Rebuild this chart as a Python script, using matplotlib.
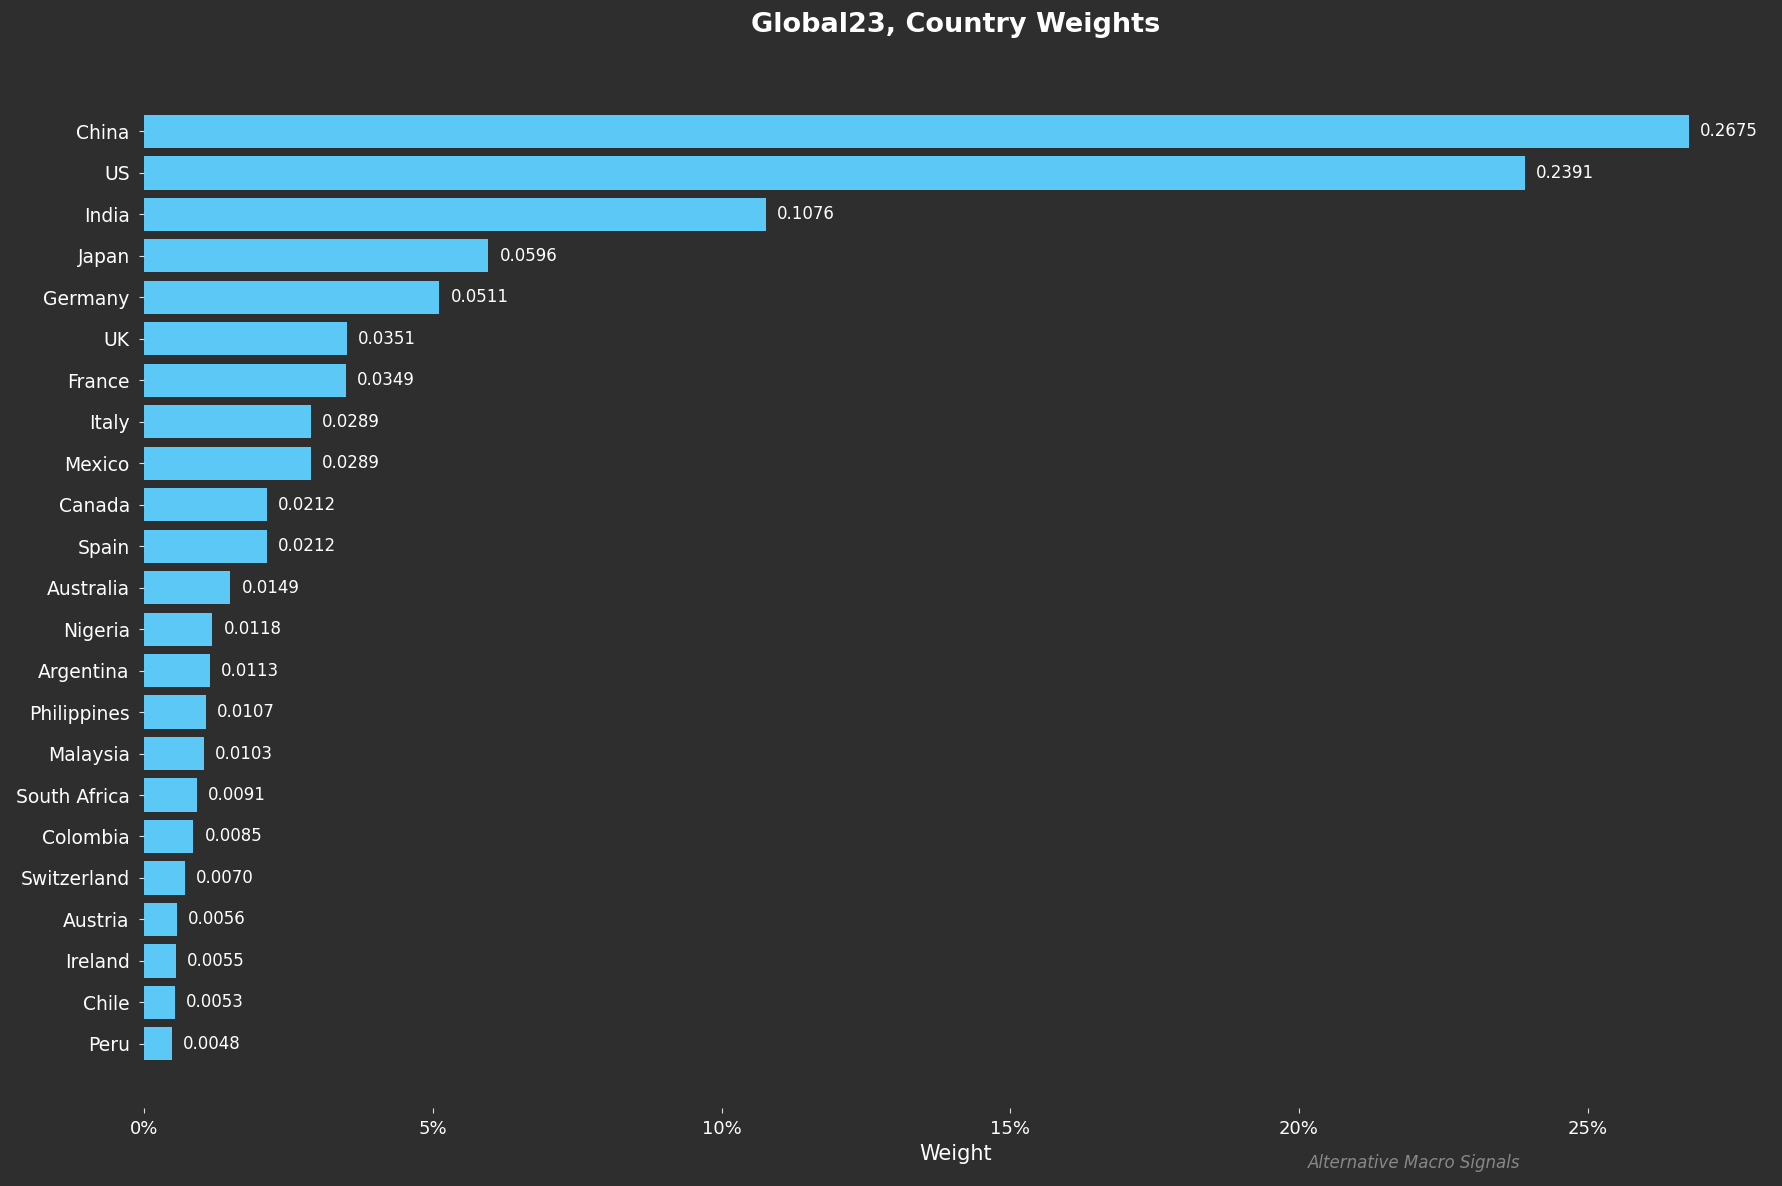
import numpy as np
import matplotlib.pyplot as plt
from matplotlib.ticker import PercentFormatter

countries = ['China', 'US', 'India', 'Japan', 'Germany', 'UK', 'France', 'Italy',
             'Mexico', 'Canada', 'Spain', 'Australia', 'Nigeria', 'Argentina',
             'Philippines', 'Malaysia', 'South Africa', 'Colombia', 'Switzerland',
             'Austria', 'Ireland', 'Chile', 'Peru']
weights = [0.2675, 0.2391, 0.1076, 0.0596, 0.0511, 0.0351, 0.0349, 0.0289,
           0.0289, 0.0212, 0.0212, 0.0149, 0.0118, 0.0113, 0.0107, 0.0103,
           0.0091, 0.0085, 0.0070, 0.0056, 0.0055, 0.0053, 0.0048]

bg = '#2e2e2e'
fig = plt.figure(figsize=(17.82, 11.86), dpi=100, facecolor=bg)
ax = fig.add_axes([0.081, 0.066, 0.91, 0.877], facecolor=bg)

ypos = np.arange(len(countries))
bars = ax.barh(ypos, weights, height=0.8, color='#5bc8f5')
ax.set_yticks(ypos)
ax.set_yticklabels(countries)
ax.invert_yaxis()
ax.set_xlim(0, max(weights) * 1.05)
ax.xaxis.set_major_formatter(PercentFormatter(1.0, decimals=0))

ax.bar_label(bars, labels=['%.4f' % w for w in weights], padding=8,
             color='white', fontsize=12)

for s in ax.spines.values():
    s.set_visible(False)
ax.tick_params(colors='#dddddd', labelcolor='white', labelsize=13.5, pad=7)
ax.tick_params(axis='x', labelsize=13, pad=5)
ax.set_xlabel('Weight', color='white', fontsize=15, labelpad=5)

# title centred over the axes
fig.text(0.081 + 0.91 / 2, 0.979, 'Global23, Country Weights', color='white',
         fontsize=19.5, fontweight='bold', ha='center', va='center')

fig.text(0.853, 0.019, 'Alternative Macro Signals', ha='right', va='center',
         color='#888888', fontsize=12, style='italic')

plt.savefig('out.png', facecolor=bg)
plt.close()
